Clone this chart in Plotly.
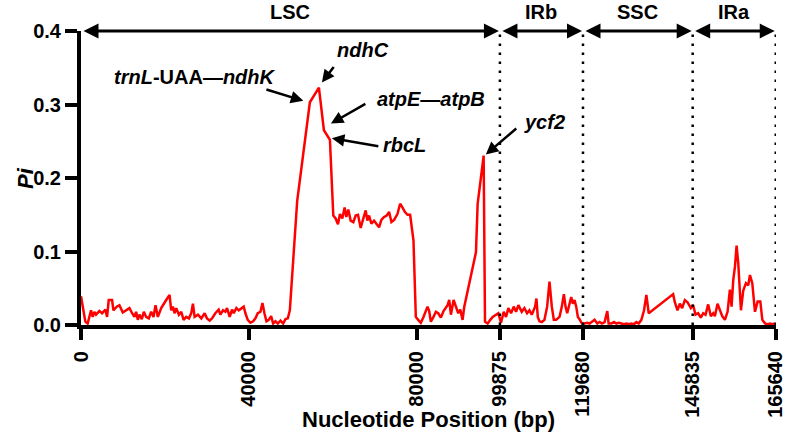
# Nucleotide diversity (Pi) along the chloroplast genome
import plotly.graph_objects as go

# window positions (bp) and Pi values
position = [
    0, 1036, 1593, 2390, 2788, 3186, 3585, 4382, 5019, 5816, 6214, 6612, 7409, 7728,
    8525, 9162, 9959, 10755, 11552, 12189, 12747, 13145, 13544, 13942, 14500, 14978,
    15535, 16173, 16730, 17288, 17766, 18324, 19120, 20315, 21112, 21510, 21909, 22307,
    22705, 23343, 23900, 24458, 25095, 25733, 26290, 26689, 27087, 27884, 28680, 29477,
    30034, 30672, 31229, 32026, 32823, 33221, 33858, 34416, 34815, 35452, 36010, 36408,
    37045, 37603, 38400, 38798, 39196, 39754, 40391, 41029, 41586, 42144, 42781, 43259,
    43737, 44215, 44773, 45331, 45809, 46366, 46924, 47561, 48199, 48756, 49314, 49792,
    51546, 54570, 56721, 57916, 59350, 60147, 60705, 61263, 61741, 62298, 62857, 63255,
    63733, 64291, 64928, 65486, 66043, 66681, 67318, 67876, 68274, 68673, 69230, 69868,
    70505, 71063, 71621, 72258, 72895, 73453, 74011, 74648, 75445, 76082, 76640, 77198,
    77835, 78472, 79269, 79826, 80384, 81021, 81659, 82216, 82615, 83013, 83411, 84049,
    84606, 85164, 85801, 86439, 86996, 87395, 87793, 88191, 88829, 89386, 89944, 90422,
    90980, 91378, 94166, 94565, 95361, 95999, 96318, 96955, 97592, 98150, 98946, 99504,
    100141, 100779, 101336, 101894, 102531, 103169, 103726, 104284, 105081, 105718,
    106355, 106913, 107471, 107949, 108267, 108586, 108904, 109303, 109861, 110498,
    111135, 111693, 112251, 112729, 113286, 114083, 114641, 115119, 115518, 115916,
    116474, 116872, 117270, 117669, 118066, 118465, 118863, 119421, 120058, 120695,
    121253, 121811, 122448, 123085, 123643, 124201, 124838, 125475, 125794, 126431,
    127069, 127626, 128184, 128821, 129459, 130016, 130574, 131211, 131849, 132406,
    132964, 133601, 134239, 134796, 135354, 141179, 141577, 142214, 142772, 143330,
    143967, 144605, 145389, 145946, 146504, 147141, 147779, 148336, 148894, 149531,
    150169, 150726, 151125, 151762, 152320, 152877, 153515, 154152, 154710, 155108,
    155507, 155905, 156303, 156702, 157339, 157897, 158534, 159092, 159491, 160048,
    160686, 161323, 161960, 162439, 163076, 163714, 164271, 164829, 165466,
]
pi_values = [
    0.039, 0.0045, 0.002, 0.020, 0.011, 0.018, 0.014, 0.019, 0.016, 0.021, 0.011, 0.034, 0.034, 0.020,
    0.025, 0.027, 0.017, 0.020, 0.023, 0.016, 0.011, 0.018, 0.007, 0.014, 0.008, 0.018,
    0.011, 0.009, 0.018, 0.011, 0.027, 0.011, 0.023, 0.034, 0.041, 0.020, 0.025, 0.016,
    0.023, 0.014, 0.018, 0.007, 0.011, 0.009, 0.016, 0.029, 0.011, 0.014, 0.009, 0.016,
    0.009, 0.006, 0.009, 0.016, 0.021, 0.014, 0.020, 0.018, 0.023, 0.011, 0.021, 0.016,
    0.023, 0.020, 0.023, 0.025, 0.016, 0.007, 0.003, 0.005, 0.009, 0.016, 0.018, 0.030,
    0.016, 0.005, 0.007, 0.012, 0.002, 0.005, 0.002, 0.006, 0.002, 0.008, 0.009, 0.020,
    0.169, 0.303, 0.323, 0.265, 0.252, 0.149, 0.145, 0.137, 0.151, 0.145, 0.160, 0.147,
    0.157, 0.142, 0.140, 0.149, 0.150, 0.132, 0.145, 0.156, 0.142, 0.149, 0.138, 0.142,
    0.137, 0.133, 0.143, 0.147, 0.149, 0.154, 0.140, 0.143, 0.151, 0.165, 0.160, 0.154,
    0.150, 0.150, 0.115, 0.011, 0.007, 0.003, 0.011, 0.018, 0.025, 0.019, 0.0045, 0.011,
    0.018, 0.016, 0.010, 0.019, 0.023, 0.027, 0.034, 0.014, 0.034, 0.025, 0.016, 0.021,
    0.007, 0.025, 0.099, 0.165, 0.201, 0.2305, 0.0045, 0.002, 0.007, 0.011, 0.014, 0.016,
    0.003, 0.018, 0.011, 0.023, 0.016, 0.025, 0.018, 0.027, 0.018, 0.023,
    0.016, 0.020, 0.014, 0.020, 0.025, 0.036, 0.011, 0.005, 0.004, 0.007,
    0.025, 0.059, 0.025, 0.007, 0.007, 0.011, 0.025, 0.042, 0.025, 0.016,
    0.029, 0.038, 0.029, 0.034, 0.025, 0.011, 0.008, 0.002, 0.002, 0.003,
    0.002, 0.004, 0.007, 0.002, 0.004, 0.002, 0.004, 0.019, 0.002, 0.002,
    0.004, 0.002, 0.003, 0.002, 0.001, 0.002, 0.001, 0.002, 0.001, 0.004,
    0.002, 0.007, 0.020, 0.041, 0.016, 0.042, 0.031, 0.020, 0.029, 0.023,
    0.034, 0.031, 0.023, 0.027, 0.014, 0.016, 0.010, 0.016, 0.014, 0.028,
    0.012, 0.016, 0.012, 0.029, 0.020, 0.012, 0.007, 0.018, 0.048, 0.025,
    0.061, 0.079, 0.108, 0.084, 0.020, 0.047, 0.057, 0.054, 0.068, 0.057,
    0.018, 0.032, 0.032, 0.007, 0.002, 0.001, 0.002, 0.001, 0.002,
]

# genome regions (boundaries in bp)
region_names = ["LSC", "IRb", "SSC", "IRa"]
region_bounds = [0, 99875, 119680, 145835, 165640]
x_ticks = [0, 40000, 80000, 99875, 119680, 145835, 165640]

# labelled hotspots: text position, arrow tail, arrow head
gene_labels = ["<i>trnL</i>-UAA—<i>ndhK</i>", "<i>ndhC</i>", "<i>atpE</i>—<i>atpB</i>",
               "<i>rbcL</i>", "<i>ycf2</i>"]
label_pos = [(27166, 0.337), (67200, 0.374), (83405, 0.307), (77209, 0.245), (110572, 0.276)]
arrow_tail = [(43847, 0.321), (60528, 0.353), (68154, 0.302), (71252, 0.243), (104137, 0.269)]
arrow_head = [(53000, 0.305), (57430, 0.330), (59575, 0.274), (59813, 0.254), (96512, 0.232)]

FONT = "Liberation Sans, Arial, sans-serif"

fig = go.Figure()
fig.add_trace(go.Scatter(x=position, y=pi_values, mode="lines",
                         line=dict(color="#ff0000", width=2.5), showlegend=False))

annotations = []
# region arrows along the top
for i, name in enumerate(region_names):
    a, b = region_bounds[i], region_bounds[i + 1]
    annotations.append(dict(x=b, y=0.4, ax=a, ay=0.4, xref="x", yref="y", axref="x", ayref="y",
                            text="", showarrow=True, arrowside="end+start", arrowhead=2,
                            arrowsize=1, arrowwidth=3, arrowcolor="black",
                            standoff=1, startstandoff=1))
    annotations.append(dict(x=(a + b) / 2, y=1.0646, xref="x", yref="paper", text="<b>%s</b>" % name,
                            showarrow=False, yanchor="middle",
                            font=dict(family=FONT, size=20, color="black")))

for lab, (tx, ty), (ax, ay), (hx, hy) in zip(gene_labels, label_pos, arrow_tail, arrow_head):
    annotations.append(dict(x=tx, y=ty, xref="x", yref="y", text="<b>%s</b>" % lab,
                            showarrow=False, yanchor="middle",
                            font=dict(family=FONT, size=20, color="black")))
    annotations.append(dict(x=hx, y=hy, ax=ax, ay=ay, xref="x", yref="y", axref="x", ayref="y",
                            text="", showarrow=True, arrowhead=2, arrowsize=1, arrowwidth=2.5,
                            arrowcolor="black", standoff=0))

# axis titles
annotations.append(dict(x=0.5, y=-0.323, xref="paper", yref="paper", showarrow=False,
                        text="<b>Nucleotide Position (bp)</b>", yanchor="middle",
                        font=dict(family=FONT, size=22, color="black")))
annotations.append(dict(x=-0.0806, y=0.5, xref="paper", yref="paper", showarrow=False,
                        text="<b><i>Pi</i></b>", textangle=-90, xanchor="center",
                        font=dict(family=FONT, size=22, color="black")))

# dotted boundary lines
shapes = []
for b in region_bounds[1:]:
    shapes.append(dict(type="line", xref="x", yref="y", x0=b, x1=b, y0=0, y1=0.4,
                       line=dict(color="black", width=2.5, dash="2.5px,6.5px")))

fig.update_layout(
    width=786, height=440,
    margin=dict(l=81, r=10, t=31, b=115),
    paper_bgcolor="white", plot_bgcolor="white",
    annotations=annotations, shapes=shapes,
    font=dict(family=FONT, color="black"),
)
fig.update_xaxes(
    range=[0, 165700], tickvals=x_ticks, ticktext=[str(v) for v in x_ticks], automargin=False,
    tickangle=-90, ticks="outside", ticklen=11, tickwidth=4, tickcolor="black",
    ticklabelstandoff=3, ticklabeloverflow="allow",
    showline=True, linewidth=4, linecolor="black", showgrid=False, zeroline=False,
    tickfont=dict(family=FONT, size=20, color="black", weight="bold"),
)
fig.update_yaxes(
    range=[0, 0.4], tickvals=[0, 0.1, 0.2, 0.3, 0.4], ticktext=["0.0", "0.1", "0.2", "0.3", "0.4"],
    automargin=False,
    ticks="outside", ticklen=12, tickwidth=4, tickcolor="black",
    showline=True, linewidth=4, linecolor="black", showgrid=False, zeroline=False,
    tickfont=dict(family=FONT, size=20, color="black", weight="bold"),
)

# drop the browser's default body margin so the figure sits at the window corner
fig.write_html("out.html", config={"displayModeBar": False},
               post_script="document.body.style.margin='0';")
